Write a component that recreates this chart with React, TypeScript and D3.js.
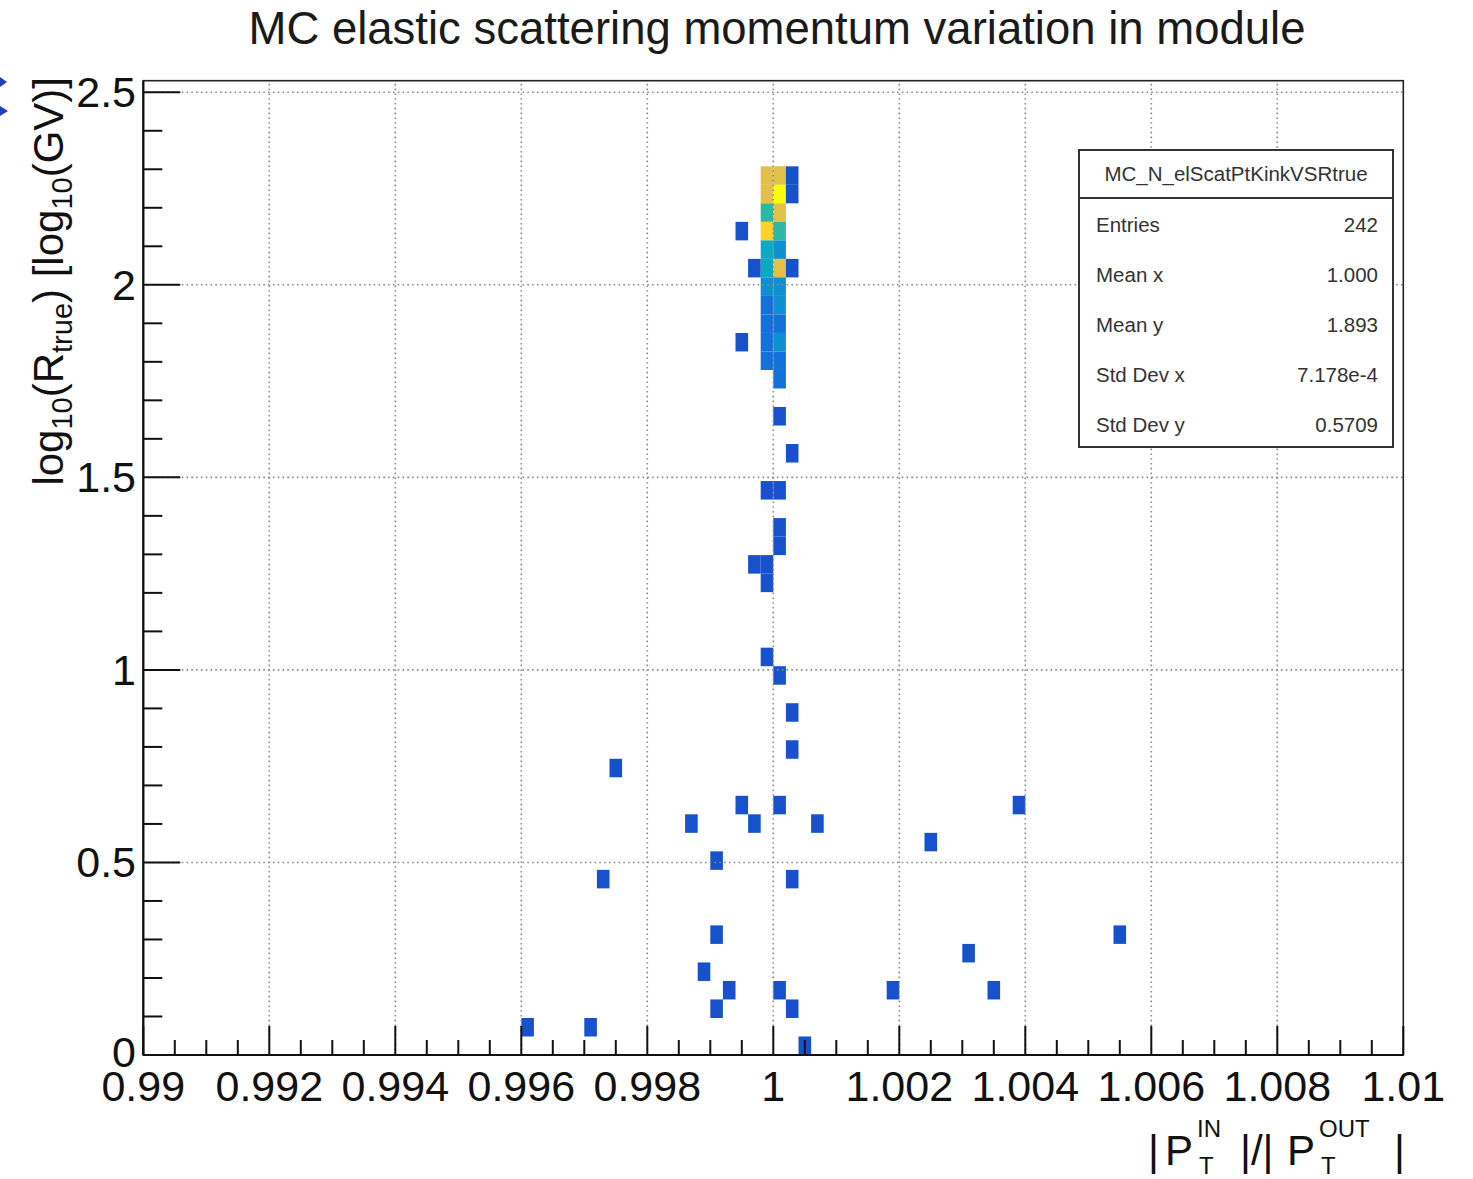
import React from 'react';
import * as d3 from 'd3';

// ---------- data ----------
const TITLE = 'MC elastic scattering momentum variation in module';
const X_DOMAIN: [number, number] = [0.99, 1.01];
const X_NBINS = 100;
const Y_HIST_DOMAIN: [number, number] = [0, 2.5];
const Y_NBINS = 52;
const Y_AXIS_MAX = 2.53;
const Z_MAX = 10;

const xMajorTicks = [0.99, 0.992, 0.994, 0.996, 0.998, 1, 1.002, 1.004, 1.006, 1.008, 1.01];
const xTickLabels = ['0.99', '0.992', '0.994', '0.996', '0.998', '1', '1.002', '1.004', '1.006', '1.008', '1.01'];
const xMinorStep = 0.0005;
const yMajorTicks = [0, 0.5, 1, 1.5, 2, 2.5];
const yTickLabels = ['0', '0.5', '1', '1.5', '2', '2.5'];
const yMinorStep = 0.1;

// dense column: [x bin, y bin, count]
const denseCells: [number, number, number][] = [
  [49, 47, 8], [50, 47, 8],
  [49, 46, 8], [50, 46, 10],
  [49, 45, 5], [50, 45, 8],
  [49, 44, 9], [50, 44, 5],
  [49, 43, 4], [50, 43, 3],
  [49, 42, 4], [50, 42, 8],
  [49, 41, 3], [50, 41, 3],
  [49, 40, 2], [50, 40, 3],
  [49, 39, 2], [50, 39, 2],
  [49, 38, 2], [50, 38, 3],
  [49, 37, 2], [50, 37, 2],
  [50, 36, 2],
];

// single-entry cells: [x bin, y bin]
const isolatedCells: [number, number][] = [
  [51, 47], [51, 46], [47, 44], [48, 42], [51, 42], [47, 38], [50, 34], [51, 32],
  [49, 30], [50, 30], [50, 28], [50, 27], [48, 26], [49, 26], [49, 25], [49, 21],
  [50, 20], [51, 18], [51, 16],
  [37, 15], [47, 13], [50, 13], [69, 13], [43, 12], [48, 12], [53, 12], [62, 11],
  [45, 10], [36, 9], [51, 9], [45, 6], [77, 6], [65, 5], [44, 4], [46, 3], [50, 3],
  [59, 3], [67, 3], [45, 2], [51, 2], [30, 1], [35, 1], [52, 0],
];

const statTitle = 'MC_N_elScatPtKinkVSRtrue';
const statLabels = ['Entries', 'Mean x', 'Mean y', 'Std Dev x', 'Std Dev y'];
const statValues = ['242', '1.000', '1.893', '7.178e-4', '0.5709'];

const birdStops = [0, 0.125, 0.25, 0.375, 0.5, 0.625, 0.75, 0.875, 1];
const birdColors = ['#352a87', '#0f5cdd', '#1481d6', '#06a4ca', '#2eb7a4', '#87bf77', '#d1bb59', '#fec832', '#f9fb0e'];

// ---------- layout ----------
const W = 1473, H = 1179;
const FL = 143.3, FR = 1403.3, FT = 80.7, FB = 1055;
const FONT = '"Liberation Sans", Arial, Helvetica, sans-serif';

export default function App() {
  const x = d3.scaleLinear().domain(X_DOMAIN).range([FL, FR]);
  const y = d3.scaleLinear().domain([0, Y_AXIS_MAX]).range([FB, FT]);
  const color = d3.scaleLinear<string>().domain(birdStops).range(birdColors).interpolate(d3.interpolateRgb);
  const xw = (X_DOMAIN[1] - X_DOMAIN[0]) / X_NBINS;
  const yw = (Y_HIST_DOMAIN[1] - Y_HIST_DOMAIN[0]) / Y_NBINS;

  const cells = [
    ...denseCells.map(([i, k, c]) => ({ i, k, c })),
    ...isolatedCells.map(([i, k]) => ({ i, k, c: 1 })),
  ];

  const xMinor = d3.range(0, Math.round((X_DOMAIN[1] - X_DOMAIN[0]) / xMinorStep) + 1)
    .filter((n) => n % 4 !== 0)
    .map((n) => X_DOMAIN[0] + n * xMinorStep);
  const yMinor = d3.range(0, 26).filter((n) => n % 5 !== 0).map((n) => n * yMinorStep);

  const grid = '#8a8a8a';
  return (
    <svg width={W} height={H} style={{ position: 'absolute', left: 0, top: 0, background: '#fff' }} fontFamily={FONT}>
      <rect x={0} y={0} width={W} height={H} fill="#fff" />
      {/* left-edge artifacts */}
      <path d="M0,77 L7,82 L0,87 Z" fill="#2040c0" />
      <path d="M0,106 L8,111 L0,116 Z" fill="#2040c0" />

      <text x={777} y={44} fontSize={45.5} textAnchor="middle" fill="#1a1a1a">{TITLE}</text>

      {/* histogram cells */}
      <g>
        {cells.map((d, n) => {
          const x0 = x(X_DOMAIN[0] + d.i * xw);
          const x1 = x(X_DOMAIN[0] + (d.i + 1) * xw);
          const y0 = y(Y_HIST_DOMAIN[0] + d.k * yw);
          const y1 = y(Y_HIST_DOMAIN[0] + (d.k + 1) * yw);
          return <rect key={n} x={x0} y={y1} width={x1 - x0} height={y0 - y1} fill={color(d.c / Z_MAX)} />;
        })}
      </g>

      {/* grid */}
      <g stroke={grid} strokeWidth={1.6} strokeDasharray="1.6,3.2">
        {xMajorTicks.slice(1, -1).map((t) => (
          <line key={'gx' + t} x1={x(t)} x2={x(t)} y1={FB} y2={FT} />
        ))}
        {yMajorTicks.slice(1).map((t) => (
          <line key={'gy' + t} x1={FL} x2={FR} y1={y(t)} y2={y(t)} />
        ))}
      </g>

      {/* frame */}
      <rect x={FL} y={FT} width={FR - FL} height={FB - FT} fill="none" stroke="#222" strokeWidth={1.6} />
      <line x1={FL} x2={FR} y1={FB} y2={FB} stroke="#111" strokeWidth={2.2} />
      <line x1={FL} x2={FL} y1={FB} y2={FT} stroke="#111" strokeWidth={2.2} />

      {/* ticks */}
      <g stroke="#111" strokeWidth={2}>
        {xMajorTicks.map((t) => (
          <line key={'xt' + t} x1={x(t)} x2={x(t)} y1={FB} y2={FB - 29} />
        ))}
        {xMinor.map((t) => (
          <line key={'xm' + t} x1={x(t)} x2={x(t)} y1={FB} y2={FB - 15} />
        ))}
        {yMajorTicks.map((t) => (
          <line key={'yt' + t} x1={FL} x2={FL + 37} y1={y(t)} y2={y(t)} />
        ))}
        {yMinor.map((t) => (
          <line key={'ym' + t} x1={FL} x2={FL + 19} y1={y(t)} y2={y(t)} />
        ))}
      </g>

      {/* tick labels */}
      <g fontSize={43} fill="#111">
        {xMajorTicks.map((t, n) => (
          <text key={'xl' + t} x={x(t)} y={1101} textAnchor="middle">{xTickLabels[n]}</text>
        ))}
        {yMajorTicks.map((t, n) => (
          <text key={'yl' + t} x={136} y={y(t) + (t === 0 ? 12 : 15)} textAnchor="end">{yTickLabels[n]}</text>
        ))}
      </g>

      {/* y title */}
      <text transform="translate(63,77) rotate(-90)" textAnchor="end" fontSize={42} fill="#111">
        <tspan>log</tspan>
        <tspan fontSize={29} dy={9}>10</tspan>
        <tspan dy={-9}>(R</tspan>
        <tspan fontSize={29} dy={9}>true</tspan>
        <tspan dy={-9}>) [log</tspan>
        <tspan fontSize={29} dy={9}>10</tspan>
        <tspan dy={-9}>(GV)]</tspan>
      </text>

      {/* x title */}
      <g fontSize={42} fill="#111">
        <text x={1148} y={1165}>|</text>
        <text x={1165} y={1165}>P</text>
        <text x={1197} y={1137} fontSize={24}>IN</text>
        <text x={1199} y={1174} fontSize={24}>T</text>
        <text x={1240} y={1165}>|/|</text>
        <text x={1287} y={1165}>P</text>
        <text x={1319} y={1137} fontSize={24}>OUT</text>
        <text x={1321} y={1174} fontSize={24}>T</text>
        <text x={1394} y={1165}>|</text>
      </g>

      {/* stats box */}
      <g>
        <rect x={1079} y={150} width={314} height={297} fill="#fff" stroke="#333" strokeWidth={2} />
        <line x1={1079} x2={1393} y1={198} y2={198} stroke="#333" strokeWidth={2} />
        <text x={1236} y={181} textAnchor="middle" fontSize={20.5} fill="#333">{statTitle}</text>
        {statLabels.map((l, n) => (
          <g key={l}>
            <text x={1096} y={232 + n * 50} fontSize={20.5} fill="#333">{l}</text>
            <text x={1378} y={232 + n * 50} fontSize={20.5} fill="#333" textAnchor="end">{statValues[n]}</text>
          </g>
        ))}
      </g>
    </svg>
  );
}
